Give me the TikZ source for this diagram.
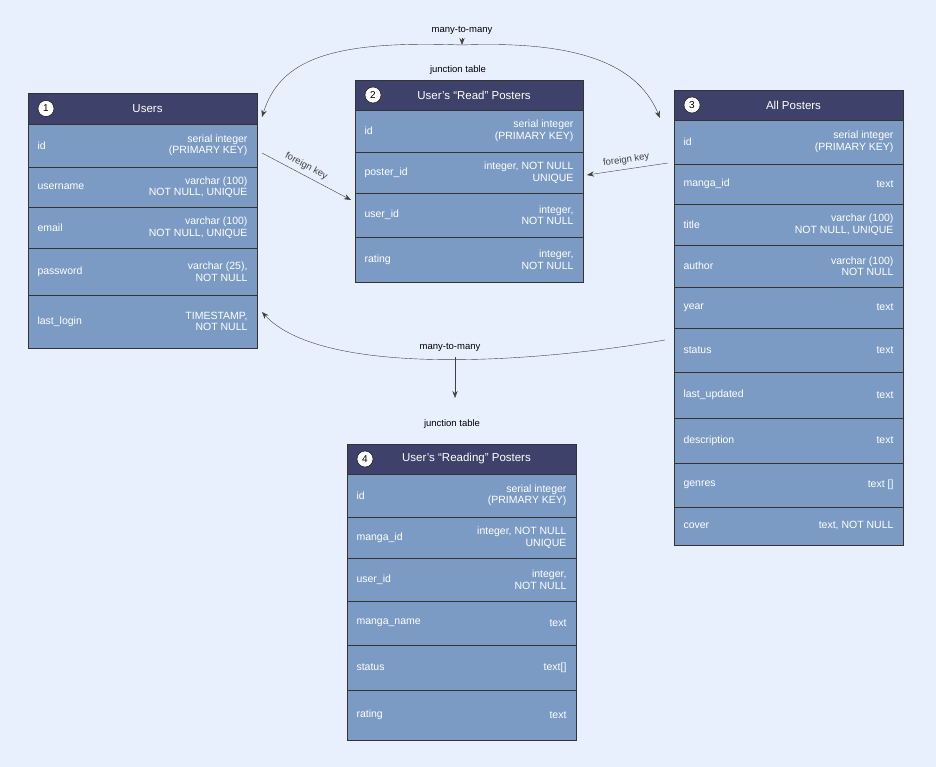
\documentclass[tikz,border=0pt]{standalone}
\usepackage{fontspec}
\setmainfont{Liberation Sans}
\usetikzlibrary{arrows.meta}
\definecolor{bg}{HTML}{E9F0FD}
\definecolor{cell}{HTML}{7B9BC4}
\definecolor{head}{HTML}{3E4169}
\tikzset{
 cellbox/.style={draw=black!80,fill=cell},
 headbox/.style={draw=black!80,fill=head},
 lt/.style={anchor=west,text=white,font=\fontsize{10.5}{11.5}\selectfont},
 rt/.style={anchor=east,text=white,align=right,font=\fontsize{10.5}{11.5}\selectfont},
 ht/.style={text=white,font=\fontsize{11.5}{13}\selectfont},
 num/.style={circle,draw=black,fill=white,inner sep=1pt,minimum size=16pt,font=\fontsize{10}{11}\selectfont},
 lab/.style={font=\fontsize{9.5}{11}\selectfont},
 arr/.style={-{Stealth[length=7pt]},black!75,thin},
}
\newcommand{\tablehead}[7]{% name x1 x2 y1 y2 title num
 \draw[headbox] (#2,#4) rectangle (#3,#5);
 \node[num] (#1n) at ({#2+18},{(#4+#5)/2}) {#7};
 \node[ht] (#1h) at ({(#2+#3)/2+5},{(#4+#5)/2}) {#6};}
\newcommand{\trow}[7]{% name x1 x2 y1 y2 left right
 \draw[cellbox] (#2,#4) rectangle (#3,#5);
 \node[lt] (#1l) at ({#2+6},{(#4+#5)/2}) {#6};
 \node[rt] (#1r) at ({#3-6},{(#4+#5)/2}) {#7};}
\begin{document}
\begin{tikzpicture}[x=1pt,y=-1pt]
\fill[bg] (0,0) rectangle (936,767);
\useasboundingbox (0,0) rectangle (936,767);
% Users
\tablehead{u}{28}{257}{93}{124}{Users}{1}
\trow{u1}{28}{257}{124}{167}{id}{serial integer\\(PRIMARY KEY)}
\trow{u2}{28}{257}{167}{207}{username}{varchar (100)\\NOT NULL, UNIQUE}
\trow{u3}{28}{257}{207}{248}{email}{varchar (100)\\NOT NULL, UNIQUE}
\trow{u4}{28}{257}{248}{295}{password}{varchar (25),\\NOT NULL}
\trow{u5}{28}{257}{295}{348}{last\_login}{TIMESTAMP,\\NOT NULL}
% Read
\tablehead{r}{355}{583}{80}{110}{User's ``Read'' Posters}{2}
\trow{r1}{355}{583}{110}{152}{id}{serial integer\\(PRIMARY KEY)}
\trow{r2}{355}{583}{152}{193}{poster\_id}{integer, NOT NULL\\UNIQUE}
\trow{r3}{355}{583}{193}{237}{user\_id}{integer,\\NOT NULL}
\trow{r4}{355}{583}{237}{282}{rating}{integer,\\NOT NULL}
% All posters
\tablehead{a}{674}{903}{90}{120}{All Posters}{3}
\trow{a1}{674}{903}{120}{164}{id}{serial integer\\(PRIMARY KEY)}
\trow{a2}{674}{903}{164}{204}{manga\_id}{text}
\trow{a3}{674}{903}{204}{245}{title}{varchar (100)\\NOT NULL, UNIQUE}
\trow{a4}{674}{903}{245}{287}{author}{varchar (100)\\NOT NULL}
\trow{a5}{674}{903}{287}{328}{year}{text}
\trow{a6}{674}{903}{328}{372}{status}{text}
\trow{a7}{674}{903}{372}{418}{last\_updated}{text}
\trow{a8}{674}{903}{418}{463}{description}{text}
\trow{a9}{674}{903}{463}{507}{genres}{text []}
\trow{a10}{674}{903}{507}{545}{cover}{text, NOT NULL}
% Reading
\tablehead{g}{347}{576}{444}{474}{User's ``Reading'' Posters}{4}
\trow{g1}{347}{576}{474}{517}{id}{serial integer\\(PRIMARY KEY)}
\trow{g2}{347}{576}{517}{558}{manga\_id}{integer, NOT NULL\\UNIQUE}
\trow{g3}{347}{576}{558}{601}{user\_id}{integer,\\NOT NULL}
\trow{g4}{347}{576}{601}{645}{manga\_name}{text}
\trow{g5}{347}{576}{645}{690}{status}{text[]}
\trow{g6}{347}{576}{690}{740}{rating}{text}
% labels
\node[lab] (mm1) at (462,30) {many-to-many};
\node[lab] (jt1) at (458,70) {junction table};
\node[lab] (mm2) at (450,347) {many-to-many};
\node[lab] (jt2) at (452,424) {junction table};
\coordinate (t1) at (262,117);
\coordinate (t2) at (462,45);
\coordinate (t3) at (660,118);
\draw[arr] (t2) .. controls (330,40) and (280,60) .. (t1);
\draw[arr] (t2) .. controls (590,40) and (640,70) .. (t3);
\draw[arr] (mm1.south) -- (t2);
\coordinate (f1) at (262,153);
\coordinate (f2) at (351,200);
\draw[arr] (f1) -- (f2) node[pos=0.45,sloped,above=1pt,lab]{foreign key};
\coordinate (f3) at (668,163);
\coordinate (f4) at (587,175);
\draw[arr] (f3) -- (f4) node[midway,sloped,above=1pt,lab]{foreign key};
\coordinate (b1) at (665,340);
\coordinate (b2) at (262,312);
\draw[arr] (b1) .. controls (520,365) and (320,375) .. (b2);
\coordinate (b3) at (455,398);
\draw[arr] (455,357) -- (b3);
\end{tikzpicture}
\end{document}
